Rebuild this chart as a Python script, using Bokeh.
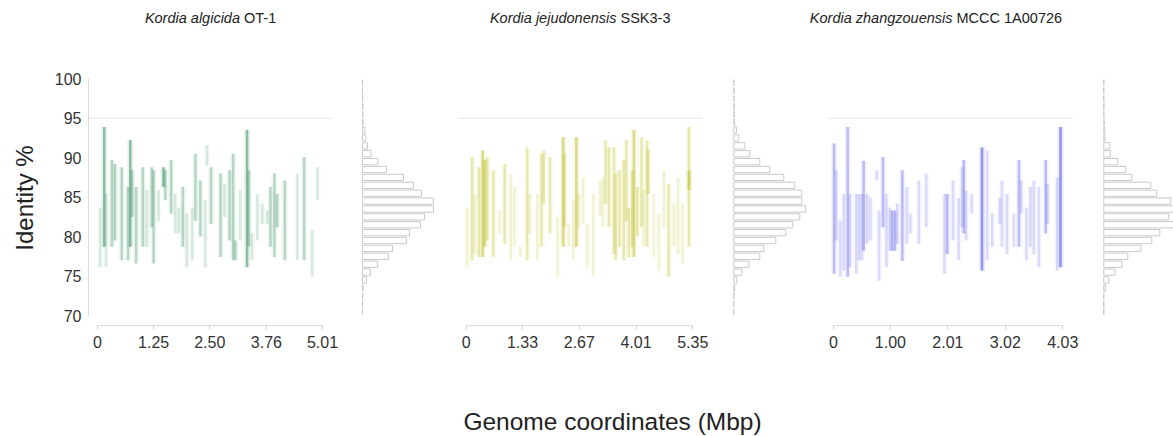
from bokeh.plotting import figure
from bokeh.layouts import row, column
from bokeh.models import Range1d, FixedTicker, Label, ColumnDataSource
from bokeh.embed import file_html
from bokeh.resources import INLINE

# identity bins (1 % wide) shared by the three histograms
bin_edges = list(range(70, 101))
y_ticks = [70, 75, 80, 85, 90, 95, 100]

# ---- Kordia algicida OT-1 -------------------------------------------------
ka_genus = "Kordia algicida"
ka_strain = "OT-1"
ka_length = 5.01
ka_tick_labels = ["0", "1.25", "2.50", "3.76", "5.01"]
ka_pos = [0.06, 0.15, 0.19, 0.32, 0.39, 0.54, 0.68, 0.73, 0.77, 0.86, 1.01, 1.10,
          1.21, 1.25, 1.36, 1.47, 1.51, 1.64, 1.73, 1.81, 1.90, 1.99, 2.11, 2.18,
          2.29, 2.40, 2.44, 2.53, 2.74, 2.83, 2.94, 3.02, 3.07, 3.18, 3.33, 3.37,
          3.44, 3.56, 3.67, 3.78, 3.85, 3.94, 4.00, 4.17, 4.45, 4.60, 4.78, 4.90]
ka_lo = [76.1, 78.7, 76.1, 78.7, 79.5, 77.0, 77.0, 78.7, 82.5, 76.6, 78.7, 78.7,
         81.2, 76.6, 82.0, 86.3, 84.6, 82.9, 80.4, 80.4, 78.7, 76.1, 77.0, 82.0,
         80.0, 76.1, 89.0, 81.6, 77.4, 82.5, 79.5, 77.0, 77.0, 79.5, 76.1, 78.7,
         77.0, 79.5, 81.6, 81.6, 78.7, 77.4, 81.2, 77.0, 77.0, 77.0, 74.9, 84.6]
ka_hi = [83.7, 93.9, 85.4, 89.7, 89.2, 88.8, 86.3, 92.2, 88.4, 86.3, 88.8, 85.9,
         88.8, 88.4, 85.9, 88.8, 88.4, 89.7, 85.4, 83.7, 86.3, 82.9, 83.7, 90.5,
         87.1, 84.6, 91.6, 88.8, 88.0, 86.7, 88.4, 90.5, 79.5, 85.9, 93.5, 88.4,
         80.4, 85.4, 84.2, 83.3, 86.3, 88.0, 85.4, 87.1, 88.0, 90.1, 80.8, 88.8]
ka_density = [1, 3, 1, 2, 2, 2, 2, 3, 2, 2, 2, 1,
              2, 2, 1, 3, 2, 2, 1, 1, 2, 1, 1, 2,
              2, 1, 1, 2, 2, 1, 2, 2, 2, 1, 3, 2,
              1, 1, 1, 1, 2, 2, 2, 2, 1, 2, 1, 1]
ka_counts = [0, 0, 1, 3, 20, 40, 75, 130, 150, 220, 235, 290, 310, 355, 355,
             295, 255, 205, 120, 77, 42, 25, 17, 12, 3, 2, 2, 1, 0, 0]

# ---- Kordia jejudonensis SSK3-3 --------------------------------------------
kj_genus = "Kordia jejudonensis"
kj_strain = "SSK3-3"
kj_length = 5.35
kj_tick_labels = ["0", "1.33", "2.67", "4.01", "5.35"]
kj_pos = [0.02, 0.14, 0.20, 0.30, 0.39, 0.44, 0.50, 0.64, 0.79, 0.91, 1.05, 1.14,
          1.28, 1.44, 1.50, 1.68, 1.78, 1.83, 1.98, 2.16, 2.29, 2.32, 2.42, 2.53,
          2.60, 2.66, 2.76, 2.86, 3.00, 3.16, 3.23, 3.29, 3.37, 3.49, 3.53, 3.62,
          3.72, 3.78, 3.84, 3.92, 3.96, 4.04, 4.14, 4.19, 4.27, 4.30, 4.43, 4.55,
          4.67, 4.78, 4.90, 5.00, 5.11, 5.26, 5.26]
kj_lo = [76.1, 77.0, 77.8, 77.4, 77.4, 78.7, 79.5, 77.4, 80.4, 79.1, 77.0, 78.7,
         77.4, 77.0, 80.4, 77.0, 78.7, 84.2, 80.4, 74.9, 78.7, 81.2, 78.7, 77.0,
         78.7, 81.2, 81.6, 76.1, 74.9, 82.5, 81.2, 84.2, 81.2, 77.8, 77.0, 78.7,
         77.0, 82.0, 77.4, 78.7, 77.4, 80.0, 81.2, 78.7, 78.7, 85.4, 77.4, 75.7,
         81.2, 74.9, 78.7, 77.8, 76.6, 78.7, 85.9]
kj_hi = [83.7, 90.1, 85.4, 88.8, 90.9, 89.7, 90.1, 88.4, 83.3, 89.2, 87.9, 86.3,
         78.7, 91.3, 85.4, 85.4, 90.5, 90.9, 90.1, 82.5, 92.6, 90.5, 81.6, 84.6,
         92.6, 85.4, 87.5, 81.6, 85.4, 87.1, 87.5, 92.2, 91.3, 91.3, 88.0, 88.4,
         89.7, 92.2, 83.7, 88.4, 93.5, 86.3, 92.6, 85.9, 92.2, 91.0, 85.4, 82.9,
         88.4, 86.7, 84.2, 87.5, 84.2, 93.9, 88.4]
kj_density = [1, 2, 1, 2, 3, 3, 2, 2, 1, 2, 1, 1,
              1, 2, 1, 1, 2, 2, 2, 1, 3, 2, 1, 1,
              3, 1, 1, 1, 1, 1, 1, 2, 2, 2, 2, 2,
              2, 2, 2, 2, 3, 2, 2, 1, 2, 2, 1, 1,
              1, 2, 1, 1, 1, 2, 3]
kj_counts = [0, 0, 1, 4, 15, 40, 75, 130, 150, 210, 260, 295, 330, 360, 340,
             340, 305, 250, 180, 130, 80, 55, 25, 13, 4, 3, 2, 1, 1, 0]

# ---- Kordia zhangzouensis MCCC 1A00726 --------------------------------------
kz_genus = "Kordia zhangzouensis"
kz_strain = "MCCC 1A00726"
kz_length = 4.03
kz_tick_labels = ["0", "1.00", "2.01", "3.02", "4.03"]
kz_pos = [0.01, 0.05, 0.12, 0.18, 0.25, 0.29, 0.40, 0.45, 0.50, 0.53, 0.59, 0.65,
          0.76, 0.80, 0.87, 0.93, 0.99, 1.03, 1.08, 1.12, 1.21, 1.29, 1.35, 1.50,
          1.63, 1.95, 2.00, 2.10, 2.20, 2.26, 2.29, 2.33, 2.43, 2.61, 2.70, 2.79,
          2.92, 2.96, 3.05, 3.17, 3.26, 3.30, 3.39, 3.46, 3.52, 3.61, 3.73, 3.76,
          3.93, 3.99]
kz_lo = [75.3, 79.5, 74.9, 75.7, 74.9, 76.1, 75.3, 77.0, 77.0, 78.2, 79.1, 79.5,
         87.1, 74.4, 81.2, 76.1, 78.2, 78.2, 78.2, 79.1, 76.9, 79.1, 80.4, 79.1,
         81.2, 75.3, 77.8, 79.5, 77.0, 81.2, 80.4, 79.5, 82.9, 75.7, 77.0, 78.7,
         81.6, 78.7, 77.8, 78.7, 78.7, 82.9, 77.0, 78.7, 77.8, 76.1, 80.4, 81.6,
         75.7, 76.1]
kz_hi = [91.8, 88.4, 82.0, 85.4, 93.9, 85.4, 85.4, 85.4, 85.4, 89.6, 85.4, 85.0,
         88.4, 83.3, 90.1, 85.4, 83.7, 83.3, 83.3, 84.2, 88.4, 86.3, 82.9, 87.1,
         88.0, 85.4, 85.4, 87.1, 84.9, 88.8, 89.7, 85.8, 85.4, 91.3, 90.9, 83.0,
         84.9, 87.1, 85.4, 82.9, 89.7, 87.1, 83.7, 86.3, 87.1, 86.3, 89.7, 86.7,
         87.5, 93.9]
kz_density = [2, 1, 1, 1, 2, 1, 1, 1, 1, 2, 1, 1,
              1, 1, 2, 1, 1, 2, 2, 1, 2, 1, 1, 1,
              1, 1, 2, 1, 1, 1, 2, 1, 1, 3, 1, 1,
              1, 1, 1, 1, 2, 1, 1, 1, 1, 1, 2, 1,
              1, 3]
kz_counts = [0, 0, 0, 8, 25, 55, 90, 120, 185, 240, 280, 365, 325, 370, 335,
             265, 235, 140, 110, 70, 33, 30, 6, 6, 2, 1, 1, 0, 0, 0]

x_title = "Genome coordinates (Mbp)"

# ---- page geometry (pixels) -----------------------------------------------
PAGE_W = 1173
TOP_STRIP, BOTTOM_STRIP = 34, 41
PANEL_H = 436 - TOP_STRIP - BOTTOM_STRIP
FRAME_TOP, FRAME_BOTTOM = 70, 325          # page pixels
Y100_PX, PX_PER_PCT = 78.3, 7.89
HIST_PX_PER_COUNT = 0.2
FONT = "Liberation Sans"


def py_to_y(py):
    return 100 - (py - Y100_PX) / PX_PER_PCT


def panel(length, tick_labels, pos, lo, hi, density, counts, color,
          canvas_left, frame_left, frame_right, canvas_right, x0_px, xl_px,
          ref_right_px, hist0_px, show_y=False):
    ppu = (xl_px - x0_px) / length

    def px_to_x(px):
        return (px - x0_px) / ppu

    fig = figure(
        width=canvas_right - canvas_left, height=PANEL_H,
        x_range=Range1d(px_to_x(frame_left), px_to_x(frame_right)),
        y_range=Range1d(py_to_y(FRAME_BOTTOM), py_to_y(FRAME_TOP)),
        min_border_left=frame_left - canvas_left,
        min_border_right=canvas_right - frame_right,
        min_border_top=FRAME_TOP - TOP_STRIP,
        min_border_bottom=TOP_STRIP + PANEL_H - FRAME_BOTTOM,
        y_axis_location="left" if show_y else None,
        output_backend="svg", toolbar_location=None,
    )
    fig.outline_line_color = None
    fig.xgrid.visible = False
    fig.ygrid.visible = False
    fig.background_fill_color = "white"
    fig.border_fill_color = "white"

    # x axis trimmed to the genome length
    ticks = [float(t) for t in tick_labels]
    xa = fig.xaxis[0]
    xa.ticker = FixedTicker(ticks=ticks)
    xa.major_label_overrides = {t: lab for t, lab in zip(ticks, tick_labels)}
    xa.bounds = (0, length)
    xa.axis_line_color = "#dcdcdc"
    xa.major_tick_line_color = "#cfcfcf"
    xa.major_tick_out = 4
    xa.major_tick_in = 0
    xa.minor_tick_line_color = None
    xa.major_label_standoff = 6
    xa.major_label_text_font = FONT
    xa.major_label_text_font_size = "16px"
    xa.major_label_text_color = "#333333"

    if show_y:
        ya = fig.yaxis[0]
        ya.ticker = FixedTicker(ticks=y_ticks)
        ya.bounds = (70, 100)
        ya.axis_line_color = "#dcdcdc"
        ya.major_tick_line_color = None
        ya.major_tick_out = 0
        ya.major_tick_in = 0
        ya.minor_tick_line_color = None
        ya.major_label_standoff = 7
        ya.major_label_text_font = FONT
        ya.major_label_text_font_size = "16px"
        ya.major_label_text_color = "#333333"
        ya.axis_label = "Identity %"
        ya.axis_label_text_font = FONT
        ya.axis_label_text_font_size = "24px"
        ya.axis_label_text_font_style = "normal"
        ya.axis_label_text_color = "#222222"
        ya.axis_label_standoff = 14

    # 95 % species boundary across the dot plot
    fig.segment(x0=[px_to_x(frame_left)], x1=[px_to_x(ref_right_px)], y0=[95], y1=[95],
                line_color="#e6e6e6", line_width=1)

    # alignment hits, one vertical streak per aligned region
    alpha_for = {1: 0.16, 2: 0.3, 3: 0.5}
    src = ColumnDataSource(dict(x=pos, lo=lo, hi=hi,
                                a=[alpha_for[d] for d in density],
                                h=[alpha_for[d] * 0.22 for d in density]))
    fig.segment(x0="x", x1="x", y0="lo", y1="hi", source=src,
                line_color=color, line_alpha="h", line_width=6)
    fig.segment(x0="x", x1="x", y0="lo", y1="hi", source=src,
                line_color=color, line_alpha="a", line_width=2.5)

    # marginal identity histogram
    h_start = -(hist0_px - frame_left) / HIST_PX_PER_COUNT
    h_end = (frame_right - hist0_px) / HIST_PX_PER_COUNT
    fig.extra_x_ranges = {"hist": Range1d(h_start, h_end)}
    centers = [(a + b) / 2 for a, b in zip(bin_edges[:-1], bin_edges[1:])]
    fig.hbar(y=centers, height=0.8, left=0, right=counts, x_range_name="hist",
             fill_color="white", line_color="#c9c9c9", line_width=1)
    return fig


def text_strip(height, top_px):
    fig = figure(width=PAGE_W, height=height,
                 x_range=Range1d(0, PAGE_W), y_range=Range1d(top_px + height, top_px),
                 min_border=0, output_backend="svg", toolbar_location=None,
                 x_axis_location=None, y_axis_location=None)
    fig.outline_line_color = None
    fig.xgrid.visible = False
    fig.ygrid.visible = False
    return fig


# panel titles: italic species name followed by the strain
top = text_strip(TOP_STRIP, 0)
for genus, strain, split in [(ka_genus, ka_strain, 241.5),
                             (kj_genus, kj_strain, 618),
                             (kz_genus, kz_strain, 954)]:
    top.add_layout(Label(x=split - 2, y=17, text=genus, text_font=FONT,
                         text_font_style="italic", text_font_size="14.5px",
                         text_color="#222222", text_align="right",
                         text_baseline="middle"))
    top.add_layout(Label(x=split + 2, y=17, text=strain, text_font=FONT,
                         text_font_style="normal", text_font_size="14.5px",
                         text_color="#222222", text_align="left",
                         text_baseline="middle"))

bottom = text_strip(BOTTOM_STRIP, 436 - BOTTOM_STRIP)
bottom.add_layout(Label(x=612, y=421, text=x_title, text_font=FONT,
                        text_font_size="24.5px", text_color="#222222",
                        text_align="center", text_baseline="middle"))

p1 = panel(ka_length, ka_tick_labels, ka_pos, ka_lo, ka_hi, ka_density, ka_counts,
           "#2e8b57", 0, 88, 445, 445, 97, 322, 331, 362, show_y=True)
p2 = panel(kj_length, kj_tick_labels, kj_pos, kj_lo, kj_hi, kj_density, kj_counts,
           "#bcbd22", 445, 457, 810, 815, 465.7, 692.3, 702, 733.3)
p3 = panel(kz_length, kz_tick_labels, kz_pos, kz_lo, kz_hi, kz_density, kz_counts,
           "#3c3ce6", 815, 828, 1173, 1173, 833, 1062.3, 1072, 1103.3)

p = column(top, row(p1, p2, p3, spacing=0), bottom, spacing=0)

open("out.html", "w").write(file_html(p, INLINE))
